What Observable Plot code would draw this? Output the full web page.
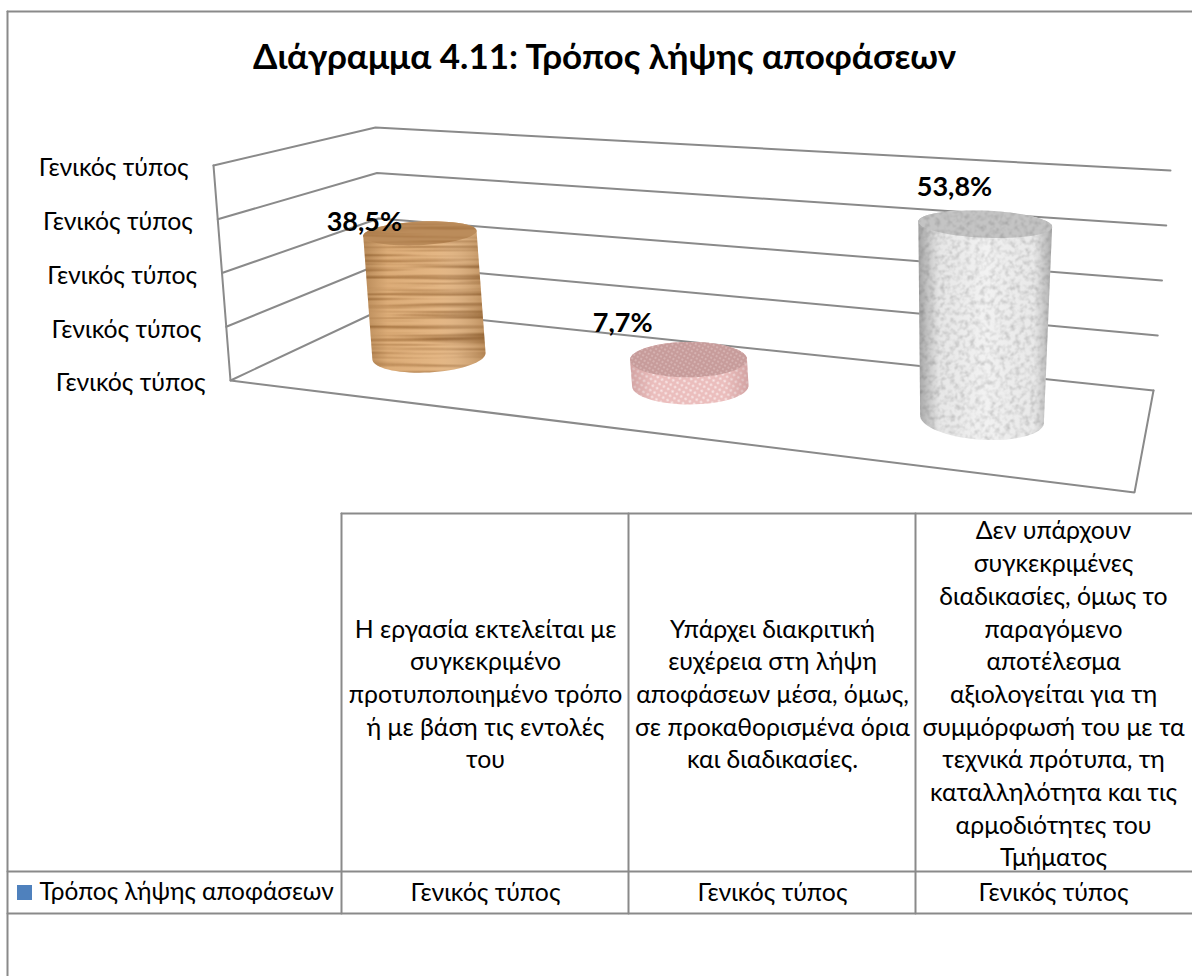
<!DOCTYPE html>
<html lang="el">
<head>
<meta charset="utf-8">
<script src="https://cdn.jsdelivr.net/npm/d3@7"></script>
<script src="https://cdn.jsdelivr.net/npm/@observablehq/plot@0.6"></script>
<style>html,body{margin:0;padding:0;background:#fff}svg{display:block}</style>
</head>
<body>
<div id="chart"></div>
<script>
const title = "Διάγραμμα 4.11: Τρόπος λήψης αποφάσεων";
const seriesName = "Τρόπος λήψης αποφάσεων";
const categories = [
  "Η εργασία εκτελείται με\nσυγκεκριμένο\nπροτυποποιημένο τρόπο\nή με βάση τις εντολές\nτου",
  "Υπάρχει διακριτική\nευχέρεια στη λήψη\nαποφάσεων μέσα, όμως,\nσε προκαθορισμένα όρια\nκαι διαδικασίες.",
  "Δεν υπάρχουν\nσυγκεκριμένες\nδιαδικασίες, όμως το\nπαραγόμενο\nαποτέλεσμα\nαξιολογείται για τη\nσυμμόρφωσή του με τα\nτεχνικά πρότυπα, τη\nκαταλληλότητα και τις\nαρμοδιότητες του\nΤμήματος"
];
const values = [38.5, 7.7, 53.8];
const valueLabels = ["38,5%", "7,7%", "53,8%"];
const tableValues = ["Γενικός τύπος", "Γενικός τύπος", "Γενικός τύπος"];
const yTicks = [0, 16, 32, 48, 64];
const yTickLabels = ["Γενικός τύπος", "Γενικός τύπος", "Γενικός τύπος", "Γενικός τύπος", "Γενικός τύπος"];

// ---- layout (scene geometry of the 3D box) ----
const FONT = "Lato, 'Open Sans', sans-serif";
const GRID = "#8a8a8a";
const TEXT_SIZE = 24.8;
const yMax = yTicks[yTicks.length - 1];
function quad(p0, p1, p2, p3) {
  const dx1 = p1[0]-p2[0], dx2 = p3[0]-p2[0], sx = p0[0]-p1[0]+p2[0]-p3[0];
  const dy1 = p1[1]-p2[1], dy2 = p3[1]-p2[1], sy = p0[1]-p1[1]+p2[1]-p3[1];
  const den = dx1*dy2-dx2*dy1;
  const g = (sx*dy2-dx2*sy)/den, h = (dx1*sy-sx*dy1)/den;
  const a = p1[0]-p0[0]+g*p1[0], b = p3[0]-p0[0]+h*p3[0], c = p0[0];
  const d = p1[1]-p0[1]+g*p1[1], e = p3[1]-p0[1]+h*p3[1], f = p0[1];
  return (u, v) => { const w = g*u+h*v+1; return [(a*u+b*v+c)/w, (d*u+e*v+f)/w]; };
}
const floorPlane = quad([230,380],[1134,492],[1153,390],[381,309]);
const topPlane   = quad([213,165],[1164,232],[1170,170],[375,127]);
function project(u, d, v) {
  const t = v / yMax, a = floorPlane(u, d), b = topPlane(u, d);
  return [a[0]+(b[0]-a[0])*t, a[1]+(b[1]-a[1])*t];
}
const ringAngles = d3.range(0, 360, 5);
const RU = 0.066, RD = 0.21;
const catU = i => (i+0.486)/3;
const ring = (i, v) => ringAngles.map(a => project(catU(i) + RU*Math.cos(a*Math.PI/180), 0.5 + RD*Math.sin(a*Math.PI/180), v));
const pt = ([x,y]) => ({x,y});
const polyMark = (pts, fill) => Plot.line(pts.map(pt), {x:"x", y:"y", fill, stroke:"none"});

const defs = () => {
  const g = document.createElementNS("http://www.w3.org/2000/svg","g");
  g.innerHTML = `<defs>
  <filter id="fWood" filterUnits="userSpaceOnUse" x="340" y="200" width="170" height="190" color-interpolation-filters="sRGB">
    <feTurbulence type="fractalNoise" baseFrequency="0.005 0.24" numOctaves="3" seed="4"/>
    <feColorMatrix type="matrix" values="0 0 0 0 0.6  0 0 0 0 0.4  0 0 0 0 0.2  2.4 0 0 0 -1.08"/>
    <feGaussianBlur stdDeviation="0.6"/>
  </filter>
  <filter id="fMarble" filterUnits="userSpaceOnUse" x="900" y="190" width="170" height="260" color-interpolation-filters="sRGB">
    <feTurbulence type="fractalNoise" baseFrequency="0.2" numOctaves="3" seed="9"/>
    <feColorMatrix type="matrix" values="0 0 0 0 0.5  0 0 0 0 0.5  0 0 0 0 0.5  0.9 0 0 0 -0.38"/>
    <feGaussianBlur stdDeviation="0.5"/>
  </filter>
  <pattern id="tex0" patternUnits="userSpaceOnUse" width="1192" height="976">
    <rect width="1192" height="976" fill="#e2b27d"/><rect x="340" y="200" width="170" height="190" filter="url(#fWood)"/></pattern>
  <pattern id="texTop0" patternUnits="userSpaceOnUse" width="1192" height="976">
    <rect width="1192" height="976" fill="#bb8c5b"/><rect x="340" y="200" width="170" height="190" filter="url(#fWood)"/></pattern>
  <pattern id="tex2" patternUnits="userSpaceOnUse" width="1192" height="976">
    <rect width="1192" height="976" fill="#f1f1f1"/><rect x="900" y="190" width="170" height="260" filter="url(#fMarble)"/></pattern>
  <pattern id="texTop2" patternUnits="userSpaceOnUse" width="1192" height="976">
    <rect width="1192" height="976" fill="#c4c4c4"/><rect x="900" y="190" width="170" height="260" filter="url(#fMarble)"/></pattern>
  <pattern id="dotsBody" patternUnits="userSpaceOnUse" width="5" height="5" patternTransform="rotate(30)">
    <rect width="5" height="5" fill="#edc0bf"/><circle cx="2.5" cy="2.5" r="1.2" fill="#fbeaea"/>
  </pattern>
  <pattern id="dotsTop" patternUnits="userSpaceOnUse" width="4" height="4" patternTransform="rotate(30)">
    <rect width="4" height="4" fill="#c79c9b"/><circle cx="2" cy="2" r="0.9" fill="#dcbcbb"/>
  </pattern>
  <linearGradient id="shadeWood" x1="0" x2="1" y1="0" y2="0">
    <stop offset="0" stop-color="#6b4218" stop-opacity=".35"/><stop offset=".2" stop-color="#6b4218" stop-opacity=".05"/>
    <stop offset=".6" stop-color="#fff" stop-opacity=".05"/><stop offset="1" stop-color="#6b4218" stop-opacity=".3"/>
  </linearGradient>
  <linearGradient id="shadeGrey" x1="0" x2="1" y1="0" y2="0">
    <stop offset="0" stop-color="#555" stop-opacity=".5"/><stop offset=".16" stop-color="#777" stop-opacity=".08"/>
    <stop offset=".5" stop-color="#fff" stop-opacity=".1"/><stop offset=".86" stop-color="#777" stop-opacity=".06"/>
    <stop offset="1" stop-color="#555" stop-opacity=".45"/>
  </linearGradient>
  <linearGradient id="shadePink" x1="0" x2="1" y1="0" y2="0">
    <stop offset="0" stop-color="#a77" stop-opacity=".4"/><stop offset=".2" stop-color="#a77" stop-opacity=".03"/>
    <stop offset=".8" stop-color="#a77" stop-opacity=".03"/><stop offset="1" stop-color="#a77" stop-opacity=".4"/>
  </linearGradient>
  </defs>`;
  return g;
};

const skins = [
  {body:"url(#tex0)", top:"url(#texTop0)", shade:"url(#shadeWood)"},
  {body:"url(#dotsBody)", top:"url(#dotsTop)", shade:"url(#shadePink)"},
  {body:"url(#tex2)", top:"url(#texTop2)", shade:"url(#shadeGrey)"}
];
const labelNudge = [[-56,-11],[-66,-36],[-30,-36]];

const marks = [defs];

// frame and table
const frameLines = [
  [[7,11],[1192,11]], [[7,11],[7,976]],
  [[341,513],[1192,513]], [[7,871],[1192,871]], [[7,913],[1192,913]],
  [[341,513],[341,913]], [[628,513],[628,913]], [[915,513],[915,913]]
];
frameLines.forEach(l => marks.push(Plot.line(l.map(pt), {x:"x", y:"y", stroke:GRID, strokeWidth:2})));

// walls: gridlines at each tick along the left and back walls
yTicks.forEach(t => marks.push(Plot.line([project(0,0,t), project(0,1,t), project(1,1,t)].map(pt), {x:"x", y:"y", stroke:GRID, strokeWidth:2, strokeLinejoin:"miter"})));
marks.push(Plot.line([project(0,0,yMax), project(0,0,0), project(1,0,0), project(1,1,0)].map(pt), {x:"x", y:"y", stroke:GRID, strokeWidth:2, strokeLinejoin:"miter"}));

// cylinders
values.forEach((v,i) => {
  const s = skins[i];
  const top = ring(i,v);
  const hull = d3.polygonHull(ring(i,0).concat(top));
  marks.push(polyMark(hull, s.body));
  marks.push(polyMark(hull, s.shade));
  marks.push(polyMark(top, s.top));
});

// value-axis tick labels
yTicks.forEach((t,k) => {
  const [x,y] = project(0,0,t);
  marks.push(Plot.text([yTickLabels[k]], {x:[x], y:[y], text:d=>d, textAnchor:"end", dx:-25, dy:3, fontSize:TEXT_SIZE, fontFamily:FONT, fill:"#000"}));
});

// data labels
values.forEach((v,i) => {
  const [x,y] = project(catU(i), 0.5, v);
  marks.push(Plot.text([valueLabels[i]], {x:[x+labelNudge[i][0]], y:[y+labelNudge[i][1]], text:d=>d, fontSize:27, fontWeight:"bold", fontFamily:FONT, fill:"#000"}));
});

// title
marks.push(Plot.text([title], {x:[604], y:[57], text:d=>d, fontSize:35, fontWeight:"bold", fontFamily:FONT, fill:"#000"}));

// data table
const colCenters = [485, 772, 1053];
categories.forEach((c,i) => {
  marks.push(Plot.text([c], {x:[colCenters[i]], y:[692], text:d=>d, fontSize:TEXT_SIZE, lineHeight:32.7/TEXT_SIZE, fontFamily:FONT, fill:"#000"}));
  marks.push(Plot.text([tableValues[i]], {x:[colCenters[i]], y:[893], text:d=>d, fontSize:TEXT_SIZE, fontFamily:FONT, fill:"#000"}));
});
marks.push(Plot.rect([0], {x1:[17], x2:[32], y1:[885], y2:[900], fill:"#4f81bd"}));
marks.push(Plot.text([seriesName], {x:[39], y:[892], text:d=>d, textAnchor:"start", fontSize:24.4, fontFamily:FONT, fill:"#000"}));

document.getElementById("chart").append(Plot.plot({
  width:1192, height:976, margin:0,
  x:{domain:[0,1192], range:[0,1192], axis:null},
  y:{domain:[0,976], range:[0,976], axis:null},
  style:{background:"#fff"},
  marks
}));
</script>
</body>
</html>
